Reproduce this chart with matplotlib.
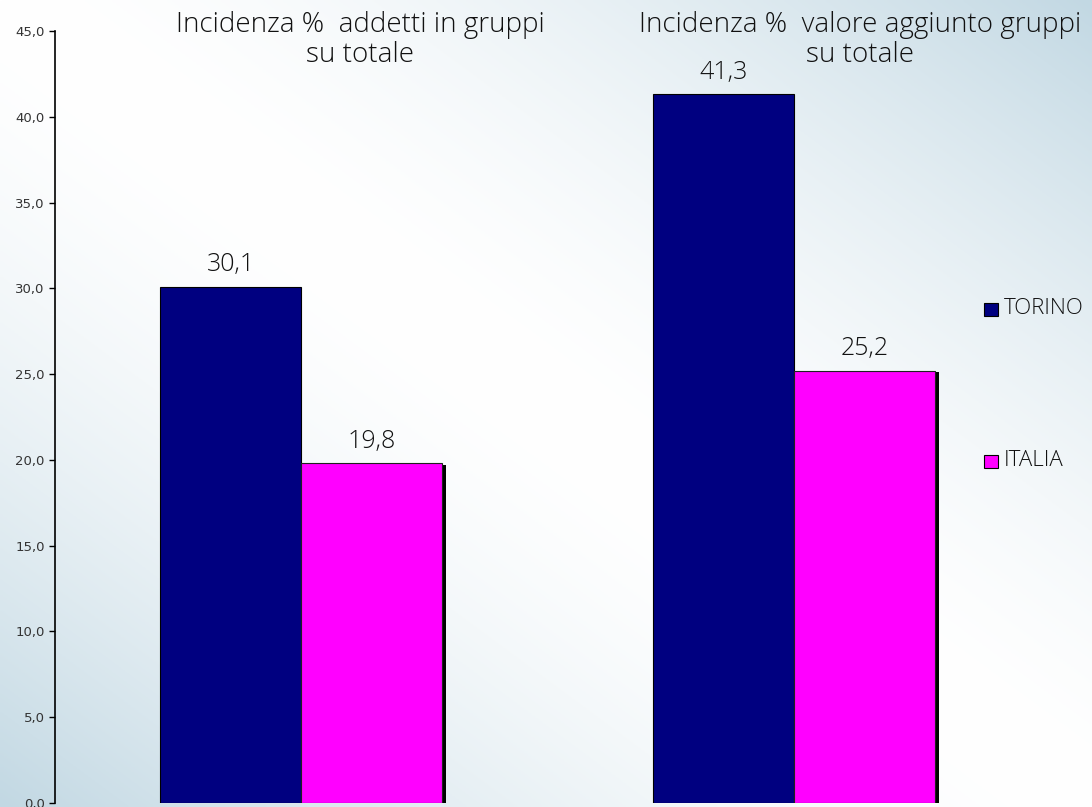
import numpy as np
import matplotlib.pyplot as plt
import matplotlib.patheffects as pe
from matplotlib.patches import Rectangle

categories = ["Incidenza %  addetti in gruppi\nsu totale",
              "Incidenza %  valore aggiunto gruppi\nsu totale"]
series = ["TORINO", "ITALIA"]
torino = [30.1, 41.3]
italia = [19.8, 25.2]
colors = ["#000080", "#ff00ff"]

W, H = 1092, 807
fig = plt.figure(figsize=(W / 100, H / 100), dpi=100)

# background gradient (bluish at bottom-left and top-right corners)
bg = fig.add_axes([0, 0, 1, 1])
xx, yy = np.meshgrid(np.linspace(0, 1, 300), np.linspace(0, 1, 300))
t = np.abs(xx + yy - 1) ** 1.6
c_white = np.array([1.0, 1.0, 1.0])
c_blue = np.array([194, 216, 227]) / 255
img = c_white[None, None, :] * (1 - t[..., None]) + c_blue[None, None, :] * t[..., None]
bg.imshow(img, extent=[0, 1, 0, 1], origin="lower", aspect="auto")
bg.axis("off")

ax = fig.add_axes([54.5 / W, 4 / H, 986 / W, 772 / H])
ax.patch.set_alpha(0)

x = np.arange(len(categories))
w = 0.286
ax.bar(x - w / 2, torino, w, color=colors[0], edgecolor="black", linewidth=0.8)
ax.bar(x + w / 2, italia, w, color=colors[1], edgecolor="#202020", linewidth=0.8,
       path_effects=[pe.SimplePatchShadow(offset=(3, -1), shadow_rgbFace="black", alpha=1),
                     pe.Normal()])

for xs, vals in [(x - w / 2, torino), (x + w / 2, italia)]:
    for xi, v in zip(xs, vals):
        ax.text(xi, v + 1.3, f"{v:.1f}".replace(".", ","), ha="center", va="center",
                fontsize=18, family="Open Sans", fontweight="light", color="#111111")

# category titles at the top
title_x = [360 / W, 860 / W]
for tx, cat in zip(title_x, categories):
    fig.text(tx, 1 - 11 / H, cat, ha="center", va="top", fontsize=20,
             family="Open Sans", fontweight="light", color="#111111", linespacing=1.08)

ax.set_xlim(-0.5, 1.5)
ax.set_ylim(0, 45)
ax.set_yticks(np.arange(0, 46, 5))
ax.set_yticklabels([f"{v:.1f}".replace(".", ",") for v in np.arange(0, 46, 5)],
                   fontsize=9.5, color="#333333")
ax.set_xticks([])
ax.tick_params(axis="y", length=4, width=1, pad=3)
for s in ["top", "right", "bottom"]:
    ax.spines[s].set_visible(False)
ax.spines["left"].set_linewidth(1.2)

# legend
leg_y = [309, 461]
for name, col, ly in zip(series, colors, leg_y):
    fig.patches.append(Rectangle((984 / W, (H - ly - 7) / H), 14 / W, 13 / H,
                                 facecolor=col, edgecolor="black", linewidth=0.8,
                                 transform=fig.transFigure))
    fig.text(1004 / W, 1 - ly / H, name, ha="left", va="center", fontsize=16,
             family="Open Sans", fontweight="light", color="#111111")

fig.savefig("out.png", dpi=100)
